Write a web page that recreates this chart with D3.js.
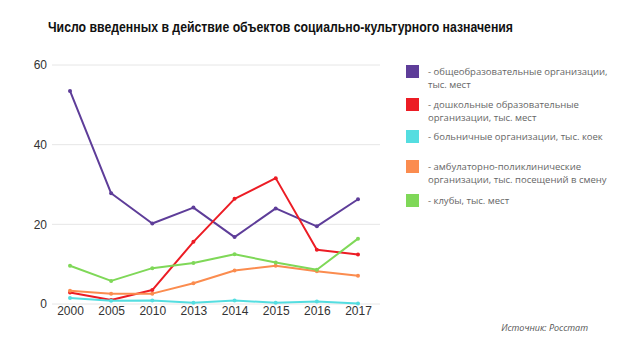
<!DOCTYPE html>
<html><head><meta charset="utf-8">
<script src="https://cdn.jsdelivr.net/npm/d3@7/dist/d3.min.js"></script>
<style>body{margin:0;background:#fff}svg{display:block}</style>
</head><body>
<svg id="c" width="620" height="348"></svg>
<script>
const years = ["2000","2005","2010","2013","2014","2015","2016","2017"];
const schools = [53.5, 27.8, 20.2, 24.2, 16.8, 24.0, 19.5, 26.3];
const kindergartens = [2.9, 1.0, 3.5, 15.6, 26.4, 31.6, 13.6, 12.4];
const hospitals = [1.5, 0.8, 0.9, 0.3, 0.9, 0.3, 0.6, 0.1];
const clinics = [3.3, 2.6, 2.6, 5.2, 8.4, 9.6, 8.2, 7.1];
const clubs = [9.6, 5.8, 9.0, 10.3, 12.5, 10.4, 8.6, 16.4];
const yTicks = [0, 20, 40, 60];
const seriesNames = [
  ["- общеобразовательные организации,", "тыс. мест"],
  ["- дошкольные образовательные", "организации, тыс. мест"],
  ["- больничные организации, тыс. коек"],
  ["- амбулаторно-поликлинические", "организации, тыс. посещений в смену"],
  ["- клубы, тыс. мест"]
];
const colors = ["#5e3d99", "#ec1c24", "#54dde0", "#fb8c4f", "#7fd858"];
const seriesValues = [schools, kindergartens, hospitals, clinics, clubs];

const svg = d3.select("#c");
svg.append("text").attr("x", 48).attr("y", 32)
  .attr("font-family", "Liberation Sans, Arial, sans-serif").attr("font-weight", "bold")
  .attr("font-size", 15).attr("fill", "#111")
  .attr("textLength", 465).attr("lengthAdjust", "spacingAndGlyphs")
  .text("Число введенных в действие объектов социально-культурного назначения");

const x = d3.scalePoint().domain(years).range([70, 358]).padding(0);
const y = d3.scaleLinear().domain([0, 60]).range([304, 65]);

const grid = svg.append("g");
grid.selectAll("line").data(yTicks).join("line")
  .attr("x1", 52).attr("x2", 380).attr("y1", d => y(d)).attr("y2", d => y(d))
  .attr("stroke", "#e6e6e6").attr("stroke-width", 1);

const yAxis = svg.append("g").attr("transform", "translate(47,0)")
  .call(d3.axisLeft(y).tickValues(yTicks).tickSize(0).tickPadding(0));
yAxis.select(".domain").remove();
yAxis.selectAll("text").attr("font-family", "Liberation Sans, Arial, sans-serif")
  .attr("font-size", 12).attr("fill", "#333");

const xAxis = svg.append("g").attr("transform", "translate(0,304)")
  .call(d3.axisBottom(x).tickSize(0).tickPadding(2));
xAxis.select(".domain").remove();
xAxis.selectAll("text").attr("font-family", "Liberation Sans, Arial, sans-serif")
  .attr("font-size", 12).attr("fill", "#333");

const line = d3.line().x((d, i) => x(years[i])).y(d => y(d));
seriesValues.forEach((vals, k) => {
  const g = svg.append("g");
  g.append("path").datum(vals).attr("d", line).attr("fill", "none")
    .attr("stroke", colors[k]).attr("stroke-width", 2).attr("stroke-linejoin", "round");
  g.selectAll("circle").data(vals).join("circle")
    .attr("cx", (d, i) => x(years[i])).attr("cy", d => y(d)).attr("r", 2)
    .attr("fill", colors[k]);
});

const legendY = [65, 98, 130, 160, 194];
seriesNames.forEach((lines, k) => {
  const g = svg.append("g").attr("transform", `translate(406,${legendY[k]})`);
  g.append("rect").attr("width", 13).attr("height", 13).attr("fill", colors[k]);
  lines.forEach((t, j) => {
    g.append("text").attr("x", 22).attr("y", 10 + j * 12.5)
      .attr("font-family", "Open Sans, sans-serif").attr("font-size", 9.5)
      .attr("fill", "#666").text(t);
  });
});

svg.append("text").attr("x", 588).attr("y", 331).attr("text-anchor", "end")
  .attr("font-family", "Open Sans, sans-serif").attr("font-style", "italic")
  .attr("font-size", 9).attr("fill", "#555").text("Источник: Росстат");
</script>
</body></html>
